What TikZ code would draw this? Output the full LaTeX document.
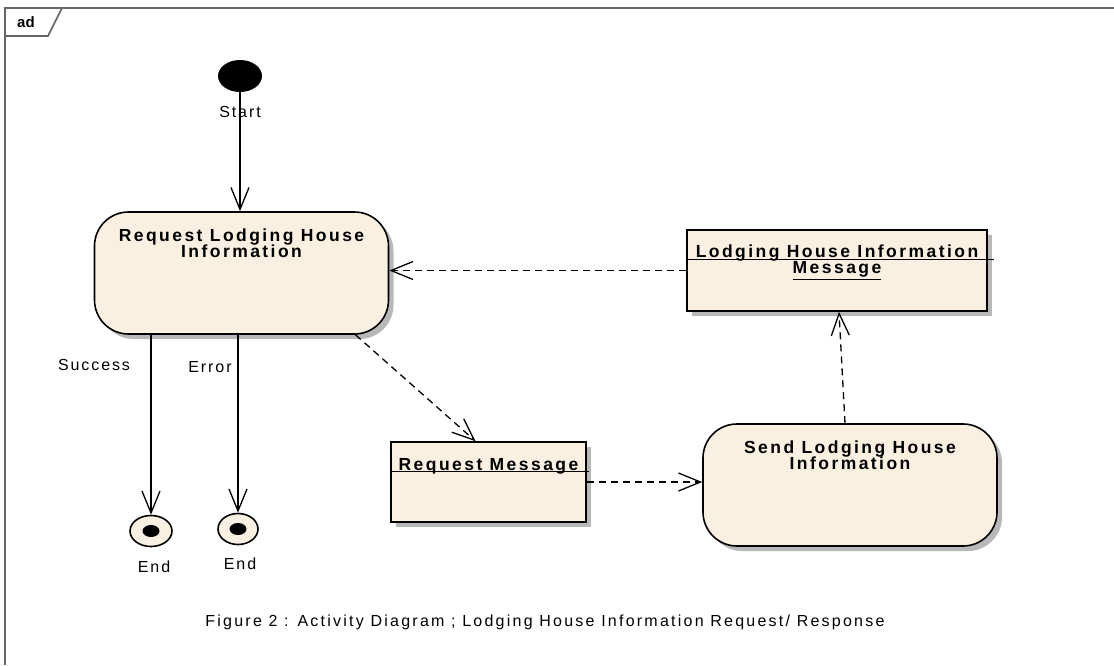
\documentclass[tikz,border=0pt]{standalone}
\usepackage{fontspec}
\setmainfont{Liberation Sans}
\usetikzlibrary{arrows.meta,shadows,shapes.geometric}
\definecolor{boxfill}{RGB}{250,240,226}
\begin{document}
\begin{tikzpicture}[x=1pt,y=-1pt,
  frame/.style={draw=black!60, line width=1.6pt},
  shadowed/.style={drop shadow={shadow xshift=5pt, shadow yshift=-5pt, fill=black!28, opacity=1}},
  act/.style={draw=black, line width=1.6pt, fill=boxfill, rounded corners=34pt, minimum width=294pt, minimum height=122pt, shadowed},
  obj/.style={draw=black, line width=1.6pt, fill=boxfill, shadowed},
  flow/.style={line width=1.3pt, -{Straight Barb[length=22pt,width=18pt,line width=1.3pt]}},
  dep/.style={flow, dash pattern=on 7pt off 5pt},
  lbl/.style={font=\fontsize{16}{18}\selectfont\addfontfeature{LetterSpace=12}},
  cpt/.style={font=\fontsize{16}{18}\selectfont\addfontfeature{LetterSpace=14}},
  ttl/.style={font=\fontsize{17.5}{16.5}\selectfont\bfseries\addfontfeature{LetterSpace=14}, align=center},
  uline/.style={line width=1.2pt}
]
\useasboundingbox (0,0) rectangle (1114,665);
% frame
\draw[frame] (5,665) -- (5,8) -- (1114,8);
\draw[frame] (5,36) -- (48,36) -- (62,8);
\node[font=\fontsize{15}{17}\selectfont\bfseries] (ad) at (26,22) {ad};
% start
\node[ellipse, fill=black, minimum width=44pt, minimum height=32pt, inner sep=0pt] (start) at (240,76) {};
\node[lbl] (startl) at (240,112) {Start};
% activities
\node[act] (req) at (241.5,273) {};
\node[ttl] (reqt) at (241.5,243) {Request\ Lodging House\\Information};
\node[act] (send) at (850,485) {};
\node[ttl] (sendt) at (850,455) {Send Lodging House\\Information};
% objects
\node[obj, minimum width=195pt, minimum height=80pt] (rm) at (488.5,482) {};
\node[ttl] (rmt) at (488.5,466) {Request\ Message};
\draw[uline] ([yshift=-30pt]rm.north west) -- ([yshift=-30pt,xshift=2pt]rm.north east);
\node[obj, minimum width=300pt, minimum height=81pt] (lhim) at (837,270.5) {};
\node[ttl] (lhimt) at (837,262) {Lodging House Information\\\underline{Message}};
\draw[uline] ([yshift=-30pt]lhim.north west) -- ([yshift=-30pt,xshift=6pt]lhim.north east);
% ends
\node[ellipse, draw=black, line width=1.6pt, fill=boxfill, minimum width=42pt, minimum height=31pt, inner sep=0pt] (end1) at (151,531) {};
\node[ellipse, fill=black, minimum width=17pt, minimum height=12pt, inner sep=0pt] (end1d) at (151,531) {};
\node[ellipse, draw=black, line width=1.6pt, fill=boxfill, minimum width=40pt, minimum height=31pt, inner sep=0pt] (end2) at (238,529) {};
\node[ellipse, fill=black, minimum width=17pt, minimum height=12pt, inner sep=0pt] (end2d) at (238,529) {};
\node[lbl] (end1l) at (154,567) {End};
\node[lbl] (end2l) at (240,564) {End};
% labels
\node[lbl] (succ) at (94,365) {Success};
\node[lbl] (err) at (210,367) {Error};
% connectors
\draw[flow] (start.south) -- (start.south |- req.north);
\draw[flow] (req.south -| end1) -- (end1.north);
\draw[flow] (req.south -| end2) -- (end2.north);
\draw[dep] ([xshift=114pt]req.south) -- ([xshift=-13pt]rm.north);
\draw[dep] (rm.east) -- (rm.east -| send.west);
\draw[dep] ([xshift=-5pt]send.north) -- ([xshift=2pt]lhim.south);
\draw[dep] (lhim.west) -- (lhim.west -| req.east);
% caption
\node[cpt] (cap) at (545,622) {Figure 2 : Activity Diagram ; Lodging House Information Request/ Response};
\end{tikzpicture}
\end{document}
